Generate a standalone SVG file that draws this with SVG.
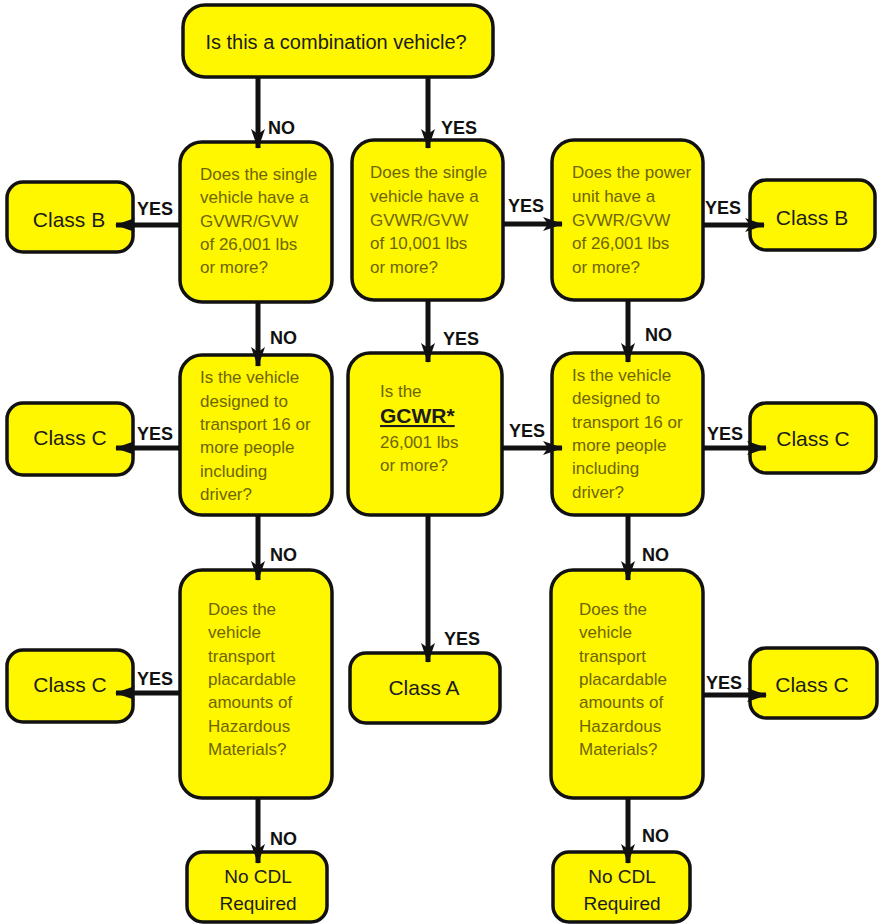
<svg xmlns="http://www.w3.org/2000/svg" width="882" height="924" viewBox="0 0 882 924">
<defs>
<style>
.box{fill:#fff700;stroke:#111;stroke-width:3.5}
.q{font-family:"Liberation Sans",Arial,sans-serif;font-size:17px;fill:#6e6500}
.c{font-family:"Liberation Sans",Arial,sans-serif;font-size:21px;fill:#1c1c1c;text-anchor:middle}
.t{font-family:"Liberation Sans",Arial,sans-serif;font-size:20px;fill:#1c1c1c;text-anchor:middle}
.n{font-family:"Liberation Sans",Arial,sans-serif;font-size:19px;fill:#1c1c1c;text-anchor:middle}
.lbl{font-family:"Liberation Sans",Arial,sans-serif;font-size:18px;font-weight:bold;fill:#111}
.arr{stroke:#111;stroke-width:5;fill:none;marker-end:url(#ah)}
</style>
<marker id="ah" markerUnits="userSpaceOnUse" markerWidth="20" markerHeight="16" viewBox="0 0 20 16" refX="19" refY="8" orient="auto">
<path d="M0,1 L20,8 L0,15 L5,8 Z" fill="#111"/>
</marker>
</defs>
<rect width="882" height="924" fill="#fff"/>

<g id="start">
<rect class="box" x="183" y="5" width="310" height="72" rx="22"/>
<text class="t" x="336" y="49">Is this a combination vehicle?</text>
</g>

<g id="q-single-26001">
<rect class="box" x="180" y="142" width="152" height="160" rx="22"/>
<text class="q" x="200" y="180">Does the single</text>
<text class="q" x="200" y="203">vehicle have a</text>
<text class="q" x="200" y="227">GVWR/GVW</text>
<text class="q" x="200" y="250">of 26,001 lbs</text>
<text class="q" x="200" y="273">or more?</text>
</g>

<g id="q-single-10001">
<rect class="box" x="352" y="140" width="151" height="160" rx="22"/>
<text class="q" x="370" y="178">Does the single</text>
<text class="q" x="370" y="202">vehicle have a</text>
<text class="q" x="370" y="226">GVWR/GVW</text>
<text class="q" x="370" y="249">of 10,001 lbs</text>
<text class="q" x="370" y="273">or more?</text>
</g>

<g id="q-power-unit">
<rect class="box" x="552" y="140" width="151" height="160" rx="22"/>
<text class="q" x="572" y="178">Does the power</text>
<text class="q" x="572" y="202">unit have a</text>
<text class="q" x="572" y="226">GVWR/GVW</text>
<text class="q" x="572" y="249">of 26,001 lbs</text>
<text class="q" x="572" y="273">or more?</text>
</g>

<g id="class-b-left">
<rect class="box" x="7" y="182" width="126" height="70" rx="16"/>
<text class="c" x="69" y="227">Class B</text>
</g>

<g id="class-b-right">
<rect class="box" x="750" y="180" width="125" height="70" rx="16"/>
<text class="c" x="812" y="225">Class B</text>
</g>

<g id="q-16-left">
<rect class="box" x="180" y="355" width="152" height="160" rx="22"/>
<text class="q" x="200" y="383">Is the vehicle</text>
<text class="q" x="200" y="407">designed to</text>
<text class="q" x="200" y="430">transport 16 or</text>
<text class="q" x="200" y="453">more people</text>
<text class="q" x="200" y="477">including</text>
<text class="q" x="200" y="500">driver?</text>
</g>

<g id="q-gcwr">
<rect class="box" x="348" y="353" width="154" height="162" rx="22"/>
<text class="q" x="380" y="397">Is the</text>
<text x="380" y="423" font-family="'Liberation Sans',Arial,sans-serif" font-size="21" font-weight="bold" fill="#1c1c1c" text-decoration="underline">GCWR*</text>
<text class="q" x="380" y="448">26,001 lbs</text>
<text class="q" x="380" y="471">or more?</text>
</g>

<g id="q-16-right">
<rect class="box" x="552" y="353" width="151" height="162" rx="22"/>
<text class="q" x="572" y="381">Is the vehicle</text>
<text class="q" x="572" y="404">designed to</text>
<text class="q" x="572" y="428">transport 16 or</text>
<text class="q" x="572" y="451">more people</text>
<text class="q" x="572" y="474">including</text>
<text class="q" x="572" y="498">driver?</text>
</g>

<g id="class-c-left-1">
<rect class="box" x="7" y="403" width="126" height="72" rx="16"/>
<text class="c" x="70" y="445">Class C</text>
</g>

<g id="class-c-right-1">
<rect class="box" x="750" y="403" width="126" height="70" rx="16"/>
<text class="c" x="813" y="446">Class C</text>
</g>

<g id="q-hazmat-left">
<rect class="box" x="180" y="570" width="152" height="228" rx="22"/>
<text class="q" x="208" y="615">Does the</text>
<text class="q" x="208" y="638">vehicle</text>
<text class="q" x="208" y="662">transport</text>
<text class="q" x="208" y="685">placardable</text>
<text class="q" x="208" y="708">amounts of</text>
<text class="q" x="208" y="732">Hazardous</text>
<text class="q" x="208" y="755">Materials?</text>
</g>

<g id="q-hazmat-right">
<rect class="box" x="551" y="570" width="152" height="228" rx="22"/>
<text class="q" x="579" y="615">Does the</text>
<text class="q" x="579" y="638">vehicle</text>
<text class="q" x="579" y="662">transport</text>
<text class="q" x="579" y="685">placardable</text>
<text class="q" x="579" y="708">amounts of</text>
<text class="q" x="579" y="732">Hazardous</text>
<text class="q" x="579" y="755">Materials?</text>
</g>

<g id="class-c-left-2">
<rect class="box" x="7" y="650" width="126" height="72" rx="16"/>
<text class="c" x="70" y="692">Class C</text>
</g>

<g id="class-a">
<rect class="box" x="350" y="653" width="150" height="70" rx="16"/>
<text class="c" x="424" y="695">Class A</text>
</g>

<g id="class-c-right-2">
<rect class="box" x="750" y="648" width="127" height="70" rx="16"/>
<text class="c" x="812" y="692">Class C</text>
</g>

<g id="no-cdl-left">
<rect class="box" x="187" y="852" width="140" height="70" rx="16"/>
<text class="n" x="258" y="883">No CDL</text>
<text class="n" x="258" y="910">Required</text>
</g>

<g id="no-cdl-right">
<rect class="box" x="553" y="852" width="137" height="70" rx="16"/>
<text class="n" x="622" y="883">No CDL</text>
<text class="n" x="622" y="910">Required</text>
</g>

<g id="connectors">
<path class="arr" d="M258,77 V148"/>
<path class="arr" d="M428,77 V148"/>
<path class="arr" d="M180,225 H116"/>
<path class="arr" d="M503,224 H562"/>
<path class="arr" d="M703,225 H764"/>
<path class="arr" d="M258,302 V366"/>
<path class="arr" d="M428,300 V362"/>
<path class="arr" d="M628,300 V362"/>
<path class="arr" d="M180,448 H116"/>
<path class="arr" d="M502,448 H562"/>
<path class="arr" d="M703,448 H766"/>
<path class="arr" d="M258,515 V580"/>
<path class="arr" d="M428,515 V662"/>
<path class="arr" d="M628,515 V580"/>
<path class="arr" d="M180,693 H116"/>
<path class="arr" d="M703,695 H766"/>
<path class="arr" d="M258,798 V863"/>
<path class="arr" d="M628,798 V863"/>
<text class="lbl" x="268" y="134">NO</text>
<text class="lbl" x="441" y="134">YES</text>
<text class="lbl" x="137" y="215">YES</text>
<text class="lbl" x="508" y="212">YES</text>
<text class="lbl" x="705" y="214">YES</text>
<text class="lbl" x="270" y="344">NO</text>
<text class="lbl" x="443" y="345">YES</text>
<text class="lbl" x="645" y="341">NO</text>
<text class="lbl" x="137" y="440">YES</text>
<text class="lbl" x="509" y="437">YES</text>
<text class="lbl" x="707" y="440">YES</text>
<text class="lbl" x="270" y="561">NO</text>
<text class="lbl" x="642" y="561">NO</text>
<text class="lbl" x="444" y="645">YES</text>
<text class="lbl" x="137" y="685">YES</text>
<text class="lbl" x="706" y="689">YES</text>
<text class="lbl" x="270" y="845">NO</text>
<text class="lbl" x="642" y="842">NO</text>
</g>
</svg>
